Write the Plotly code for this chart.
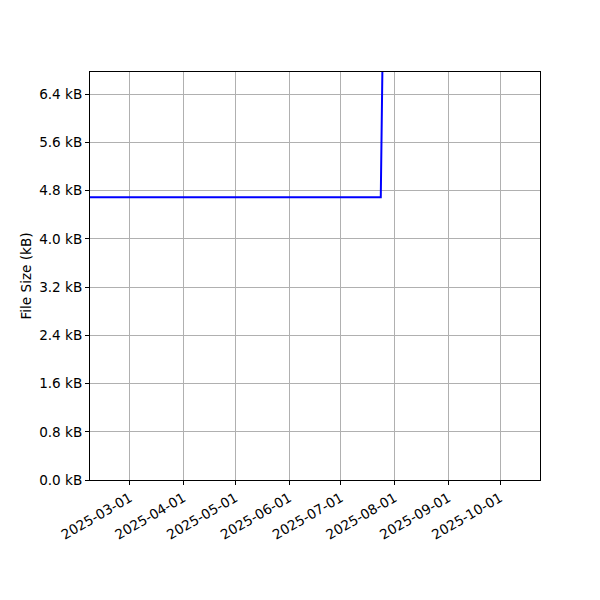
import plotly.graph_objects as go

dates = ["2025-02-01", "2025-03-15", "2025-04-20", "2025-05-25", "2025-06-30", "2025-07-24", "2025-07-26", "2025-09-01", "2025-10-12"]
sizes_kb = [4.69, 4.69, 4.69, 4.69, 4.69, 4.69, 9.2, 9.6, 10.1]

y_ticks = [0.0, 0.8, 1.6, 2.4, 3.2, 4.0, 4.8, 5.6, 6.4]
y_tick_labels = [f"{v:.1f} kB" for v in y_ticks]
x_ticks = ["2025-03-01", "2025-04-01", "2025-05-01", "2025-06-01", "2025-07-01", "2025-08-01", "2025-09-01", "2025-10-01"]

fig = go.Figure()
fig.add_trace(go.Scatter(x=dates, y=sizes_kb, mode="lines",
                         line=dict(color="#0000ff", width=2), showlegend=False))

axis_common = dict(showline=True, mirror=True, linecolor="black", linewidth=1,
                   showgrid=True, gridcolor="#b0b0b0", gridwidth=1,
                   ticks="outside", ticklen=4, tickcolor="black", zeroline=False,
                   automargin=False,
                   tickfont=dict(family="DejaVu Sans", size=13.6, color="black"))

fig.update_layout(
    width=600, height=600,
    margin=dict(l=82, r=68, t=64, b=128),
    plot_bgcolor="white", paper_bgcolor="white",
    font=dict(family="DejaVu Sans", size=13.6, color="black"),
    xaxis=dict(range=["2025-02-06", "2025-10-24"], tickvals=x_ticks, ticktext=x_ticks,
               tickangle=-30, **axis_common),
    yaxis=dict(range=[0, 6.77], tickvals=y_ticks, ticktext=y_tick_labels,
               title=dict(text="File Size (kB)", font=dict(size=13.6), standoff=4), **axis_common),
)

fig.write_html("out.html")
